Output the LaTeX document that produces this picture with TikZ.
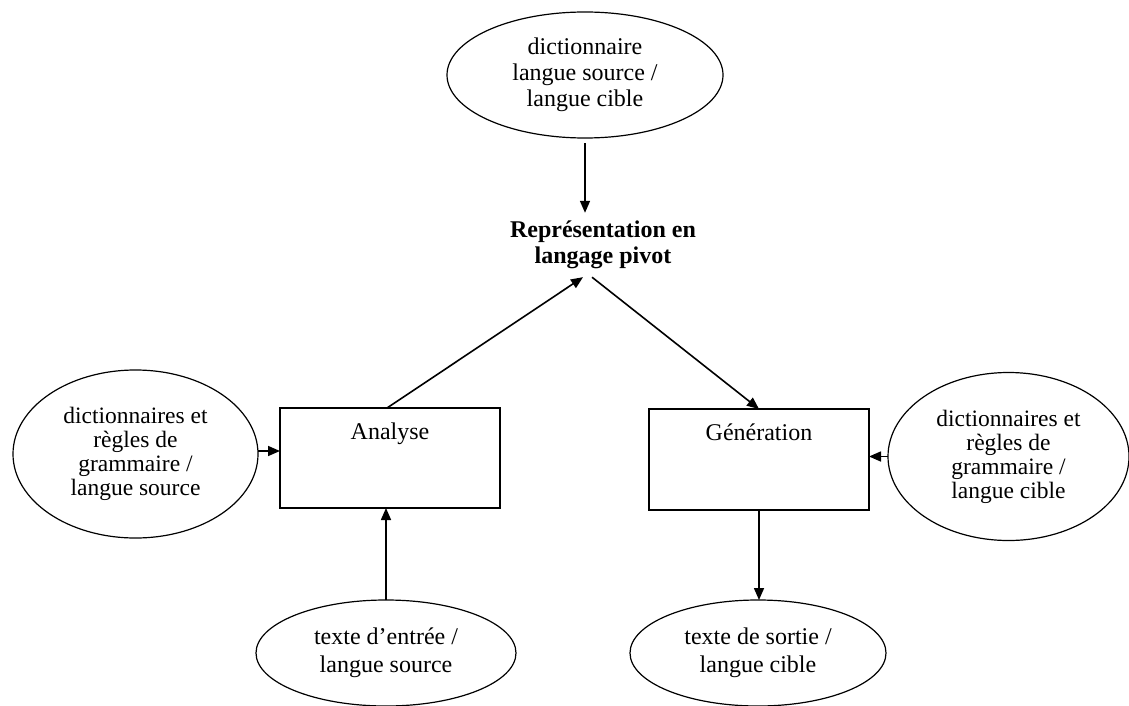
\documentclass[tikz,border=0pt]{standalone}
\usepackage{fontspec}
\setmainfont{Liberation Serif}
\usetikzlibrary{shapes.geometric,arrows.meta}
\begin{document}
\begin{tikzpicture}[x=1pt,y=-1pt,
  every node/.style={font=\fontsize{24}{26}\selectfont},
  oval/.style={ellipse,draw,line width=1.2pt,inner sep=0pt,outer sep=0pt,align=center},
  stepbox/.style={rectangle,draw,line width=1.5pt,inner sep=0pt,outer sep=0pt,minimum width=220pt,minimum height=100pt},
  boxlabel/.style={anchor=north,inner sep=0pt,yshift=-15pt},
  arr/.style={line width=1.6pt,-{Triangle[length=12pt,width=10pt]}}
]
\useasboundingbox (0,0) rectangle (1129,706);

\node[oval,minimum width=276pt,minimum height=126pt] (dict) at (585,75) {\raisebox{-3pt}{\parbox{6cm}{\centering dictionnaire\\langue source /\\langue cible}}};
\node[align=center,inner sep=8pt,font=\fontsize{24}{26}\selectfont\bfseries] (pivot) at (603,245) {Représentation en\\langage pivot};

\node[stepbox,label={[boxlabel]north:Analyse}] (ana) at (390,458) {};
\node[stepbox,minimum height=101pt,label={[boxlabel]north:Génération}] (gen) at (759,459.5) {};

\node[oval,minimum width=245pt,minimum height=168pt,font=\fontsize{23.5}{24}\selectfont] (lsrc) at (135.5,454) {dictionnaires et\\règles de\\grammaire /\\langue source};
\node[oval,minimum width=241pt,minimum height=168pt,font=\fontsize{23.5}{24}\selectfont] (lcib) at (1008.5,456.5) {dictionnaires et\\règles de\\grammaire /\\langue cible};

\node[oval,minimum width=260pt,minimum height=106pt,font=\fontsize{24}{28}\selectfont] (tin) at (386,653) {texte d’entrée /\\langue source};
\node[oval,minimum width=256pt,minimum height=106pt,font=\fontsize{24}{28}\selectfont] (tout) at (758,653) {texte de sortie /\\langue cible};

\draw[arr,shorten <=5pt] (dict.south) -- (dict.south |- pivot.north);
\draw[arr] ([xshift=-3pt]ana.north) -- ([xshift=-20pt]pivot.south);
\draw[arr] ([xshift=-11pt]pivot.south) -- (gen.north);
\draw[arr] ([yshift=3pt]lsrc.east) -- ([yshift=3pt]lsrc.east -| ana.west);
\draw[arr] (lcib.west) -- (lcib.west -| gen.east);
\draw[arr] (tin.north) -- (tin.north |- ana.south);
\draw[arr] (gen.south) -- (gen.south |- tout.north);
\end{tikzpicture}
\end{document}
